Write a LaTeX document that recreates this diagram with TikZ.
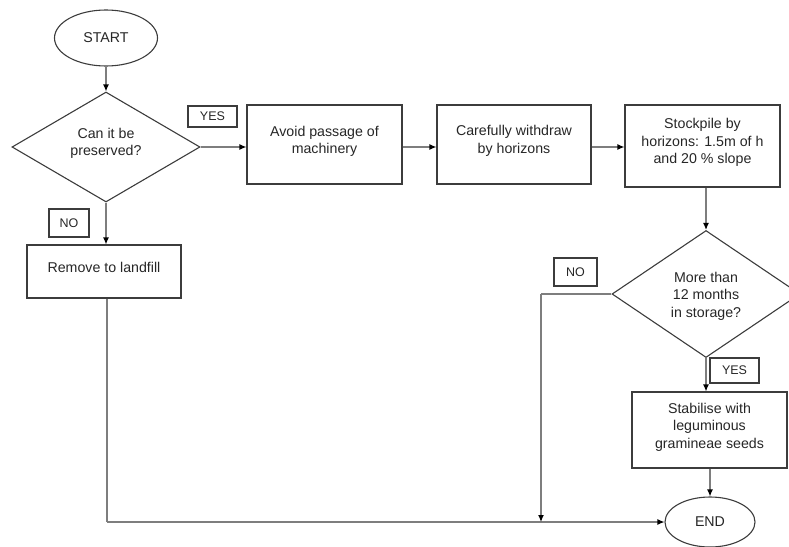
\documentclass[tikz,border=0pt]{standalone}
\usepackage{fontspec}
\setmainfont{Liberation Sans}
\usetikzlibrary{shapes.geometric,arrows.meta}
\definecolor{edge}{HTML}{3C3C3C}
\definecolor{wire}{HTML}{7E7E7E}
\begin{document}
\begin{tikzpicture}[x=1pt,y=-1pt,
  txt/.style={font=\fontsize{14.2}{17.5}\selectfont, text=black!85, align=center, inner sep=0pt},
  box/.style={draw=edge, line width=1.1pt, rectangle, inner sep=0pt},
  tag/.style={draw=edge, line width=1.1pt, rectangle, inner sep=0pt, text=black!85,
              font=\fontsize{12.5}{14}\selectfont},
  term/.style={draw=edge, line width=1.1pt, ellipse, inner sep=0pt, txt},
  ask/.style={draw=edge, line width=1.1pt, diamond, inner sep=0pt},
  link/.style={draw=wire, line width=1.2pt, -{Latex[length=7pt,width=6pt,black]}},
  wire/.style={draw=wire, line width=1.2pt}
]
\useasboundingbox (0,0) rectangle (789,546);

% terminals
\node[term, minimum width=103pt, minimum height=56pt] (start) at (106,38) {START};
\node[term, minimum width=90pt, minimum height=50pt] (end) at (710,522) {END};

% decisions (text carried by a centred label so it can sit a little off-centre)
\node[ask, minimum width=188pt, minimum height=110pt,
      label={[txt, name=d1t, yshift=3.5pt]center:Can it be\\preserved?}] (d1) at (106,147) {};
\node[ask, minimum width=188pt, minimum height=127pt,
      label={[txt, name=d2t, yshift=-2pt]center:More than\\12 months\\in storage?}] (d2) at (706,294) {};

% process steps
\node[box, minimum width=155pt, minimum height=79pt,
      label={[txt, name=b1t, yshift=3pt]center:Avoid passage of\\machinery}] (b1) at (324.5,144.5) {};
\node[box, minimum width=154pt, minimum height=79pt,
      label={[txt, name=b2t, yshift=3.5pt]center:Carefully withdraw\\by horizons}] (b2) at (514,144.5) {};
\node[box, minimum width=155pt, minimum height=82pt,
      label={[txt, name=b3t, yshift=3.5pt]center:Stockpile by\\horizons: 1.5m of h\\and 20 \% slope}] (b3) at (702.5,146) {};
\node[box, minimum width=155pt, minimum height=76pt,
      label={[txt, name=b4t, yshift=3pt]center:Stabilise with\\leguminous\\gramineae seeds}] (b4) at (709.5,430) {};
\node[box, minimum width=154pt, minimum height=53pt,
      label={[txt, name=b5t, yshift=4pt]center:Remove to landfill}] (b5) at (104,271.5) {};

% branch tags
\node[tag, minimum width=49pt, minimum height=21pt] (yes1) at (212.5,116.5) {YES};
\node[tag, minimum width=40pt, minimum height=28pt] (no1) at (69,223) {NO};
\node[tag, minimum width=43pt, minimum height=28pt] (no2) at (575.5,272) {NO};
\node[tag, minimum width=49pt, minimum height=25pt] (yes2) at (734.5,370.5) {YES};

% junction points
\coordinate (j1) at (107,522);
\coordinate (j2) at (541,522);
\coordinate (k2) at (541,294);

% connectors
\draw[link] (start) -- (d1.north);
\draw[link] (d1.east) -- (d1.east -| b1.west);
\draw[link] (b1.east |- 0,147) -- (b2.west |- 0,147);
\draw[link] (b2.east |- 0,147) -- (b3.west |- 0,147);
\draw[link] (b3.south -| d2.north) -- (d2.north);
\draw[link] (d2.south) -- (d2.south |- b4.north);
\draw[link] (b4.south -| end.north) -- (end.north);
\draw[link] (d1.south) -- (d1.south |- b5.north);
\draw[wire] (b5.south -| j1) -- (j1);
\draw[link] (j1) -- (end.west);
\draw[wire] (d2.west) -- (k2);
\draw[link] (k2) -- (j2);
\end{tikzpicture}
\end{document}
